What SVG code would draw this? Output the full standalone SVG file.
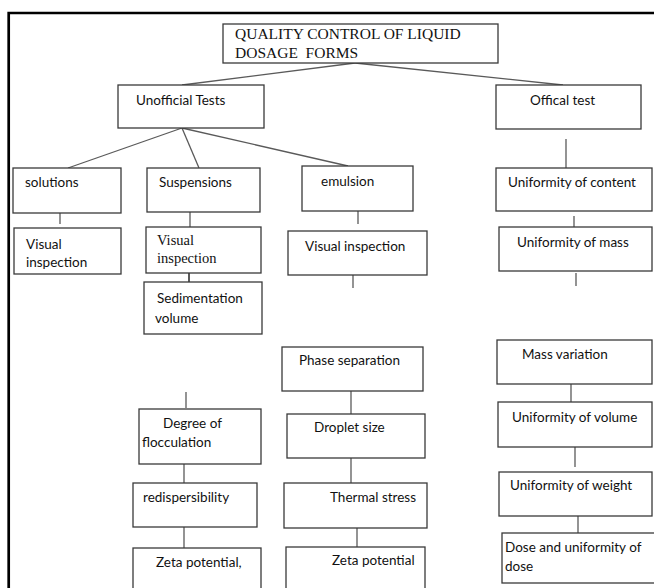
<svg xmlns="http://www.w3.org/2000/svg" width="654" height="588" viewBox="0 0 654 588">
<style>
.box{fill:#fff;stroke:#3a3a3a;stroke-width:1.3}
.con{stroke:#5a5a5a;stroke-width:1.3;fill:none}
.t{font-family:Lato,"Liberation Sans",sans-serif;font-size:13.5px;fill:#111}
.s{font-family:"Liberation Serif","Times New Roman",serif;fill:#111}
.frame{stroke:#000;stroke-width:2.7;fill:none}
</style>
<rect width="654" height="588" fill="#fff"/>
<path class="frame" d="M8.7,588 V13 H654"/>
<g id="connectors">
<line class="con" x1="355" y1="63" x2="182" y2="85"/>
<line class="con" x1="355" y1="63" x2="563" y2="85"/>
<line class="con" x1="182" y1="128" x2="68" y2="168"/>
<line class="con" x1="182" y1="128" x2="199" y2="168"/>
<line class="con" x1="182" y1="128" x2="348" y2="166"/>
<line class="con" x1="60" y1="213" x2="60" y2="224"/>
<line class="con" x1="190" y1="212" x2="190" y2="227"/>
<line class="con" x1="189" y1="273" x2="189" y2="282" style="stroke-width:2"/>
<line class="con" x1="358" y1="211" x2="358" y2="224"/>
<line class="con" x1="353" y1="275" x2="353" y2="288"/>
<line class="con" x1="186" y1="392" x2="186" y2="408"/>
<line class="con" x1="184" y1="464" x2="184" y2="483"/>
<line class="con" x1="184" y1="527" x2="184" y2="548"/>
<line class="con" x1="351" y1="391" x2="351" y2="414"/>
<line class="con" x1="351" y1="458" x2="351" y2="483"/>
<line class="con" x1="357" y1="528" x2="357" y2="547"/>
<line class="con" x1="566" y1="139" x2="566" y2="168"/>
<line class="con" x1="574" y1="216" x2="574" y2="227"/>
<line class="con" x1="576" y1="273" x2="576" y2="286"/>
<line class="con" x1="571" y1="384" x2="571" y2="402"/>
<line class="con" x1="575" y1="447" x2="575" y2="467"/>
<line class="con" x1="578" y1="516" x2="578" y2="533"/>
</g>
<g id="title"><rect class="box" x="223" y="24" width="275" height="39"/>
<text class="s" style="font-size:15.5px;white-space:pre" xml:space="preserve"><tspan x="235" y="39">QUALITY CONTROL OF LIQUID</tspan><tspan x="235" y="57.5">DOSAGE  FORMS</tspan></text></g>
<g id="unofficial"><rect class="box" x="118" y="85" width="146" height="43"/><text class="t" x="136" y="105">Unofficial Tests</text></g>
<g id="official"><rect class="box" x="496" y="85" width="145" height="44"/><text class="t" x="530" y="105">Offical test</text></g>
<g id="solutions"><rect class="box" x="13" y="168" width="108" height="45"/><text class="t" x="25" y="187">solutions</text></g>
<g id="sol-visual"><rect class="box" x="14" y="228" width="107" height="46"/><text class="t"><tspan x="26" y="249">Visual</tspan><tspan x="26" y="267">inspection</tspan></text></g>
<g id="suspensions"><rect class="box" x="147" y="168" width="113" height="44"/><text class="t" x="159" y="187">Suspensions</text></g>
<g id="susp-visual"><rect class="box" x="146" y="227" width="115" height="46"/><text class="s" style="font-size:14.5px"><tspan x="157" y="245">Visual</tspan><tspan x="157" y="263">inspection</tspan></text></g>
<g id="sedimentation"><rect class="box" x="144" y="282" width="118" height="52"/><text class="t"><tspan x="157" y="303">Sedimentation</tspan><tspan x="155" y="323">volume</tspan></text></g>
<g id="flocculation"><rect class="box" x="139" y="409" width="122" height="55"/><text class="t"><tspan x="163" y="428">Degree of</tspan><tspan x="142" y="447">flocculation</tspan></text></g>
<g id="redispersibility"><rect class="box" x="133" y="483" width="124" height="44"/><text class="t" x="143" y="502">redispersibility</text></g>
<g id="zeta-susp"><rect class="box" x="133" y="548" width="128" height="50"/><text class="t" x="156" y="567">Zeta potential,</text></g>
<g id="emulsion"><rect class="box" x="302" y="166" width="111" height="45"/><text class="t" x="321" y="186">emulsion</text></g>
<g id="emul-visual"><rect class="box" x="288" y="231" width="139" height="44"/><text class="t" x="305" y="251">Visual inspection</text></g>
<g id="phase"><rect class="box" x="282" y="347" width="141" height="44"/><text class="t" x="299" y="365">Phase separation</text></g>
<g id="droplet"><rect class="box" x="287" y="414" width="138" height="44"/><text class="t" x="314" y="432">Droplet size</text></g>
<g id="thermal"><rect class="box" x="284" y="483" width="143" height="45"/><text class="t" x="330" y="502">Thermal stress</text></g>
<g id="zeta-emul"><rect class="box" x="286" y="547" width="139" height="50"/><text class="t" x="332" y="565">Zeta potential</text></g>
<g id="uni-content"><rect class="box" x="496" y="168" width="156" height="43"/><text class="t" x="508" y="187">Uniformity of content</text></g>
<g id="uni-mass"><rect class="box" x="499" y="227" width="153" height="44"/><text class="t" x="517" y="247">Uniformity of mass</text></g>
<g id="mass-var"><rect class="box" x="497" y="340" width="155" height="44"/><text class="t" x="522" y="359">Mass variation</text></g>
<g id="uni-volume"><rect class="box" x="498" y="402" width="154" height="45"/><text class="t" x="512" y="422">Uniformity of volume</text></g>
<g id="uni-weight"><rect class="box" x="499" y="472" width="153" height="44"/><text class="t" x="510" y="490">Uniformity of weight</text></g>
<g id="dose"><rect class="box" x="502" y="533" width="160" height="50"/><text class="t"><tspan x="505" y="552">Dose and uniformity of</tspan><tspan x="505" y="571">dose</tspan></text></g>
</svg>
